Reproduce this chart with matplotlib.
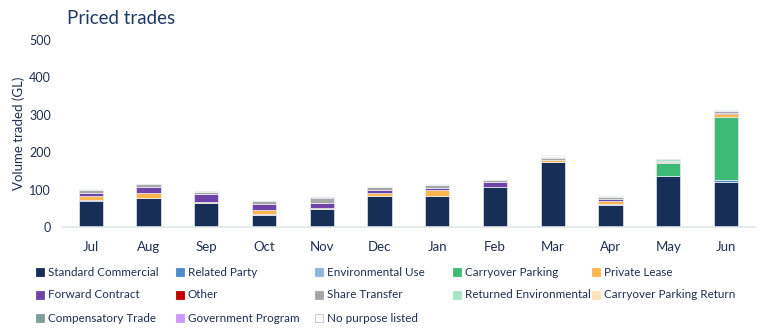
import numpy as np
import matplotlib
matplotlib.use("Agg")
import matplotlib.pyplot as plt
from matplotlib.patches import Rectangle

plt.rcParams['font.family'] = ['Lato', 'DejaVu Sans']

months = ['Jul', 'Aug', 'Sep', 'Oct', 'Nov', 'Dec', 'Jan', 'Feb', 'Mar', 'Apr', 'May', 'Jun']

# volume traded (GL) per purpose, stacked bottom to top
standard_commercial = [71, 77, 64, 33, 48, 83, 83, 107, 173, 60, 137, 121]
related_party = [0.5, 0, 0, 0, 0, 0, 0, 0, 0, 0, 0, 5]
environmental_use = [0, 0, 0, 1.5, 0, 0, 0, 0.5, 0.5, 3, 0, 0]
carryover_parking = [0, 0, 0, 0, 0, 0, 0, 0, 0, 0, 35, 168]
private_lease = [13, 15, 3, 12, 4, 9, 16, 0.5, 7, 6, 2, 7]
forward_contract = [8, 16, 21, 16, 13, 7, 5, 12, 0, 6, 0, 0]
other = [0, 0, 0, 0, 0, 0, 0, 0, 0, 0, 0, 3]
share_transfer = [7, 6, 7, 6, 14, 8, 9, 6, 5, 6, 4, 5]
returned_environmental = [0, 0, 0, 0, 0, 0, 0, 0, 0, 0, 3, 0]
carryover_parking_return = [0, 0, 0, 0, 0, 0, 0, 0, 3, 0, 0, 0]
compensatory_trade = [0, 0, 0, 0, 0, 0, 0, 0, 0, 0, 0, 0]
government_program = [0, 0, 0, 0, 1, 0, 0, 0, 0, 0, 0, 0]
no_purpose_listed = [2, 1, 1, 1, 1, 1, 1, 1, 3, 2, 1, 3]

series = [
    ('Standard Commercial', standard_commercial, '#172f57'),
    ('Related Party', related_party, '#4f8bd0'),
    ('Environmental Use', environmental_use, '#8fb4e0'),
    ('Carryover Parking', carryover_parking, '#3dba76'),
    ('Private Lease', private_lease, '#fcb64e'),
    ('Forward Contract', forward_contract, '#7043a9'),
    ('Other', other, '#c00000'),
    ('Share Transfer', share_transfer, '#a6a6a6'),
    ('Returned Environmental', returned_environmental, '#a9e3c5'),
    ('Carryover Parking Return', carryover_parking_return, '#fde2b8'),
    ('Compensatory Trade', compensatory_trade, '#7f9f9c'),
    ('Government Program', government_program, '#cc99ff'),
    ('No purpose listed', no_purpose_listed, '#ffffff'),
]

navy = '#1f2f52'

fig = plt.figure(figsize=(7.78, 3.36), dpi=100)
ax = fig.add_axes([0.0797, 0.324, 0.8905, 0.557])

x = np.arange(len(months))
bottom = np.zeros(len(months))
for name, vals, col in series:
    vals = np.array(vals, dtype=float)
    ax.bar(x, vals, 0.42, bottom=bottom, color=col, edgecolor='#e8ebf0', linewidth=0.5)
    bottom += vals

ax.set_xlim(-0.5, len(months) - 0.5)
ax.set_ylim(0, 500)
ax.set_yticks([0, 100, 200, 300, 400, 500])
ax.set_xticks(x)
ax.set_xticklabels(months)
for s in ['top', 'right', 'left']:
    ax.spines[s].set_visible(False)
ax.spines['bottom'].set_color('#e0e6e6')
ax.spines['bottom'].set_linewidth(1.2)
ax.tick_params(axis='both', length=0, labelsize=9.5, colors=navy)
ax.tick_params(axis='x', pad=10)
ax.tick_params(axis='y', labelsize=9, pad=8)
ax.set_ylabel('Volume traded (GL)', fontsize=9.5, color=navy)
ax.yaxis.set_label_coords(-0.054, 0.5)

fig.text(0.086, 0.945, 'Priced trades', fontsize=13.5, color='#1f3864', va='center')

# legend grid: five columns, three rows
col_x = [36, 176, 315, 453, 592]
row_y = [272, 295, 318]
W, H = 778.0, 336.0
for i, (name, vals, col) in enumerate(series):
    cx = col_x[i % 5]
    cy = row_y[i // 5]
    edge = '#bfbfbf' if col == '#ffffff' else col
    fig.patches.append(Rectangle((cx / W, (H - cy - 4) / H), 8 / W, 8 / H,
                                 transform=fig.transFigure, facecolor=col,
                                 edgecolor=edge, linewidth=0.6))
    fig.text((cx + 12) / W, (H - cy) / H, name, fontsize=8.4, color=navy, va='center')

fig.savefig('out.png', dpi=100)
